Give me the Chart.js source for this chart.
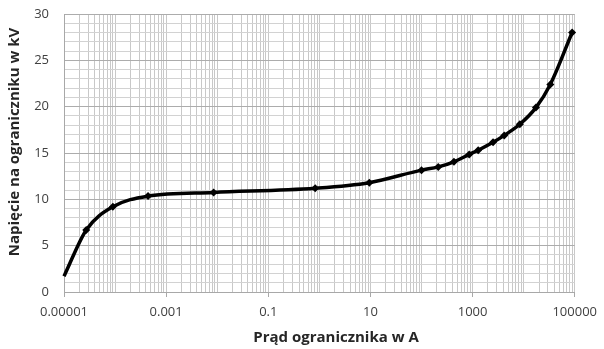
<!DOCTYPE html>
<html>
<head>
<meta charset="utf-8">
<script src="https://cdn.jsdelivr.net/npm/chart.js@4.4.1/dist/chart.umd.min.js"></script>
<style>
html, body { margin: 0; padding: 0; background: #fff; }
#wrap { width: 604px; height: 349px; }
</style>
</head>
<body>
<div id="wrap"><canvas id="chart" width="604" height="349"></canvas></div>
<script>
// prad ogranicznika [A] i napiecie [kV]
const currentA = [0.00001, 0.0000273, 0.0000906, 0.000443, 0.0085, 0.83, 9.5, 100, 213, 432, 860, 1290, 2520, 4170, 8410, 17400, 33300, 89000];
const voltageKV = [1.7, 6.7, 9.2, 10.35, 10.75, 11.2, 11.8, 13.15, 13.5, 14.05, 14.85, 15.3, 16.15, 16.9, 18.1, 19.9, 22.4, 28.0];
const xTickLabels = [0.00001, 0.001, 0.1, 10, 1000, 100000];
const yTickLabels = [0, 5, 10, 15, 20, 25, 30];
const xTitle = 'Prąd ogranicznika w A';
const yTitle = 'Napięcie na ograniczniku w kV';

const fontFam = "'Open Sans', sans-serif";

function isLabelled(v) {
  return xTickLabels.some(t => Math.abs(Math.log10(v) - Math.log10(t)) < 1e-6);
}

const points = currentA.map((x, i) => ({ x: x, y: voltageKV[i] }));

// tytuly osi jak w Excelu: x troche w prawo, y troche w gore
const axisTitles = {
  id: 'axisTitles',
  afterDraw(chart) {
    const c = chart.ctx;
    c.save();
    c.fillStyle = '#262626';
    c.font = 'bold 15px ' + fontFam;
    c.textAlign = 'center';
    c.textBaseline = 'middle';
    c.fillText(xTitle, 336, 338);
    c.translate(15, 142);
    c.rotate(-Math.PI / 2);
    c.fillText(yTitle, 0, 0);
    c.restore();
  }
};

new Chart(document.getElementById('chart'), {
  type: 'line',
  data: {
    datasets: [{
      data: points,
      borderColor: '#000',
      backgroundColor: '#000',
      borderWidth: 3.5,
      cubicInterpolationMode: 'monotone',
      pointStyle: 'rectRot',
      pointRadius: ctx => ctx.dataIndex === 0 ? 0 : 4,
      pointBorderWidth: 0,
      clip: 4
    }]
  },
  plugins: [axisTitles],
  options: {
    responsive: false,
    animation: false,
    layout: { padding: { left: 0, right: 28, top: 14, bottom: 0 } },
    plugins: { legend: { display: false }, tooltip: { enabled: false } },
    scales: {
      x: {
        type: 'logarithmic',
        min: 0.00001,
        max: 100000,
        afterBuildTicks: scale => {
          const ticks = [];
          for (let e = -5; e < 5; e++) {
            for (let m = 1; m < 10; m++) ticks.push({ value: m * Math.pow(10, e) });
          }
          ticks.push({ value: 100000 });
          scale.ticks = ticks;
        },
        afterFit: scale => { scale.height = 57; },
        ticks: {
          autoSkip: false,
          maxRotation: 0,
          padding: 7,
          color: '#404040',
          font: { family: fontFam, size: 13 },
          callback: v => isLabelled(v) ? String(Number(v.toPrecision(1))) : ''
        },
        grid: {
          color: '#c8c8c8',
          lineWidth: 1,
          tickLength: 5,
          tickColor: ctx => ctx.tick && isLabelled(ctx.tick.value) ? '#a8a8a8' : 'rgba(0,0,0,0)'
        },
        border: { color: '#a8a8a8' }
      },
      y: {
        min: 0,
        max: 30,
        afterFit: scale => { scale.paddingTop = 0; scale.width = 64; },
        ticks: {
          stepSize: 1,
          autoSkip: false,
          padding: 15,
          color: '#404040',
          font: { family: fontFam, size: 13 },
          callback: v => yTickLabels.includes(v) ? v : ''
        },
        grid: {
          color: ctx => ctx.tick && ctx.tick.value % 5 === 0 ? '#acacac' : '#d2d2d2',
          drawTicks: false
        },
        border: { color: '#a8a8a8' }
      }
    }
  }
});
</script>
</body>
</html>
